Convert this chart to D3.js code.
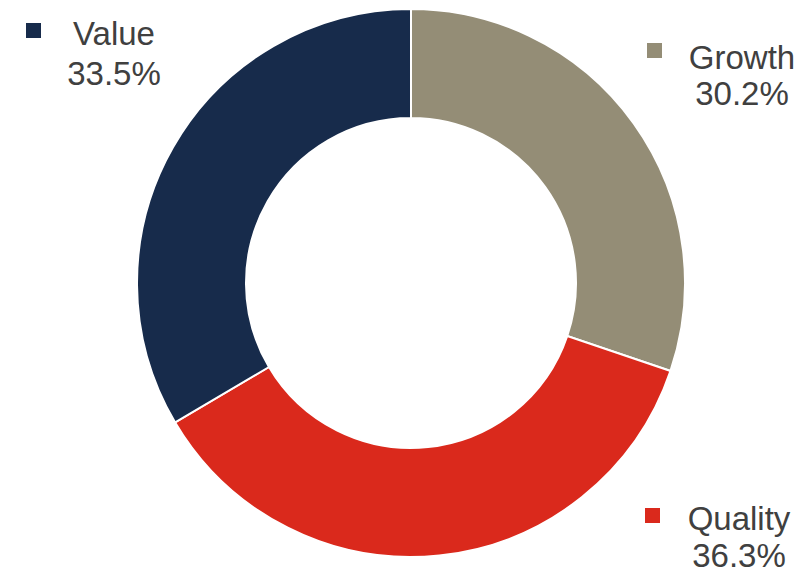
<!DOCTYPE html>
<html>
<head>
<meta charset="utf-8">
<script src="https://cdn.jsdelivr.net/npm/d3@7"></script>
<style>
  body { margin: 0; background: #fff; }
  svg { display: block; }
</style>
</head>
<body>
<svg id="chart"></svg>
<script>
const categories = ["Growth", "Quality", "Value"]
const shares = [30.2, 36.3, 33.5]
const colors = ["#948d76", "#da291c", "#172b4b"]

// label anchors: text centre x, baselines of the two lines, legend square corner
const labelPos = {
  Value:   {x: 114, y: [45, 85], sq: [26, 23]},
  Growth:  {x: 742, y: [69, 105], sq: [647, 43]},
  Quality: {x: 739, y: [530, 567], sq: [645, 508]}
}

const width = 797, height = 575,
      cx = 411, cy = 283,
      outerR = 274, innerR = 165

const svg = d3.select("#chart")
    .attr("width", width)
    .attr("height", height)

const data = categories.map((c, i) => ({name: c, value: shares[i], color: colors[i]}))

const pie = d3.pie()
    .sort(null)
    .value(d => d.value)

const arc = d3.arc()
    .innerRadius(innerR)
    .outerRadius(outerR)

const body = svg.append("g")
    .attr("transform", `translate(${cx},${cy})`)

body.selectAll("path")
    .data(pie(data))
    .enter().append("path")
    .attr("d", arc)
    .attr("fill", d => d.data.color)
    .attr("stroke", "#fff")
    .attr("stroke-width", 2)

const labels = svg.append("g")
    .style("font-family", "Liberation Sans, Arial, sans-serif")
    .style("font-size", "33px")
    .attr("fill", "#404040")

data.forEach(d => {
    const p = labelPos[d.name]
    labels.append("rect")
        .attr("x", p.sq[0])
        .attr("y", p.sq[1])
        .attr("width", 15)
        .attr("height", 15)
        .attr("fill", d.color)
    const t = labels.append("text")
        .attr("text-anchor", "middle")
    t.append("tspan")
        .attr("x", p.x)
        .attr("y", p.y[0])
        .text(d.name)
    t.append("tspan")
        .attr("x", p.x)
        .attr("y", p.y[1])
        .text(d3.format(".1f")(d.value) + "%")
})
</script>
</body>
</html>
